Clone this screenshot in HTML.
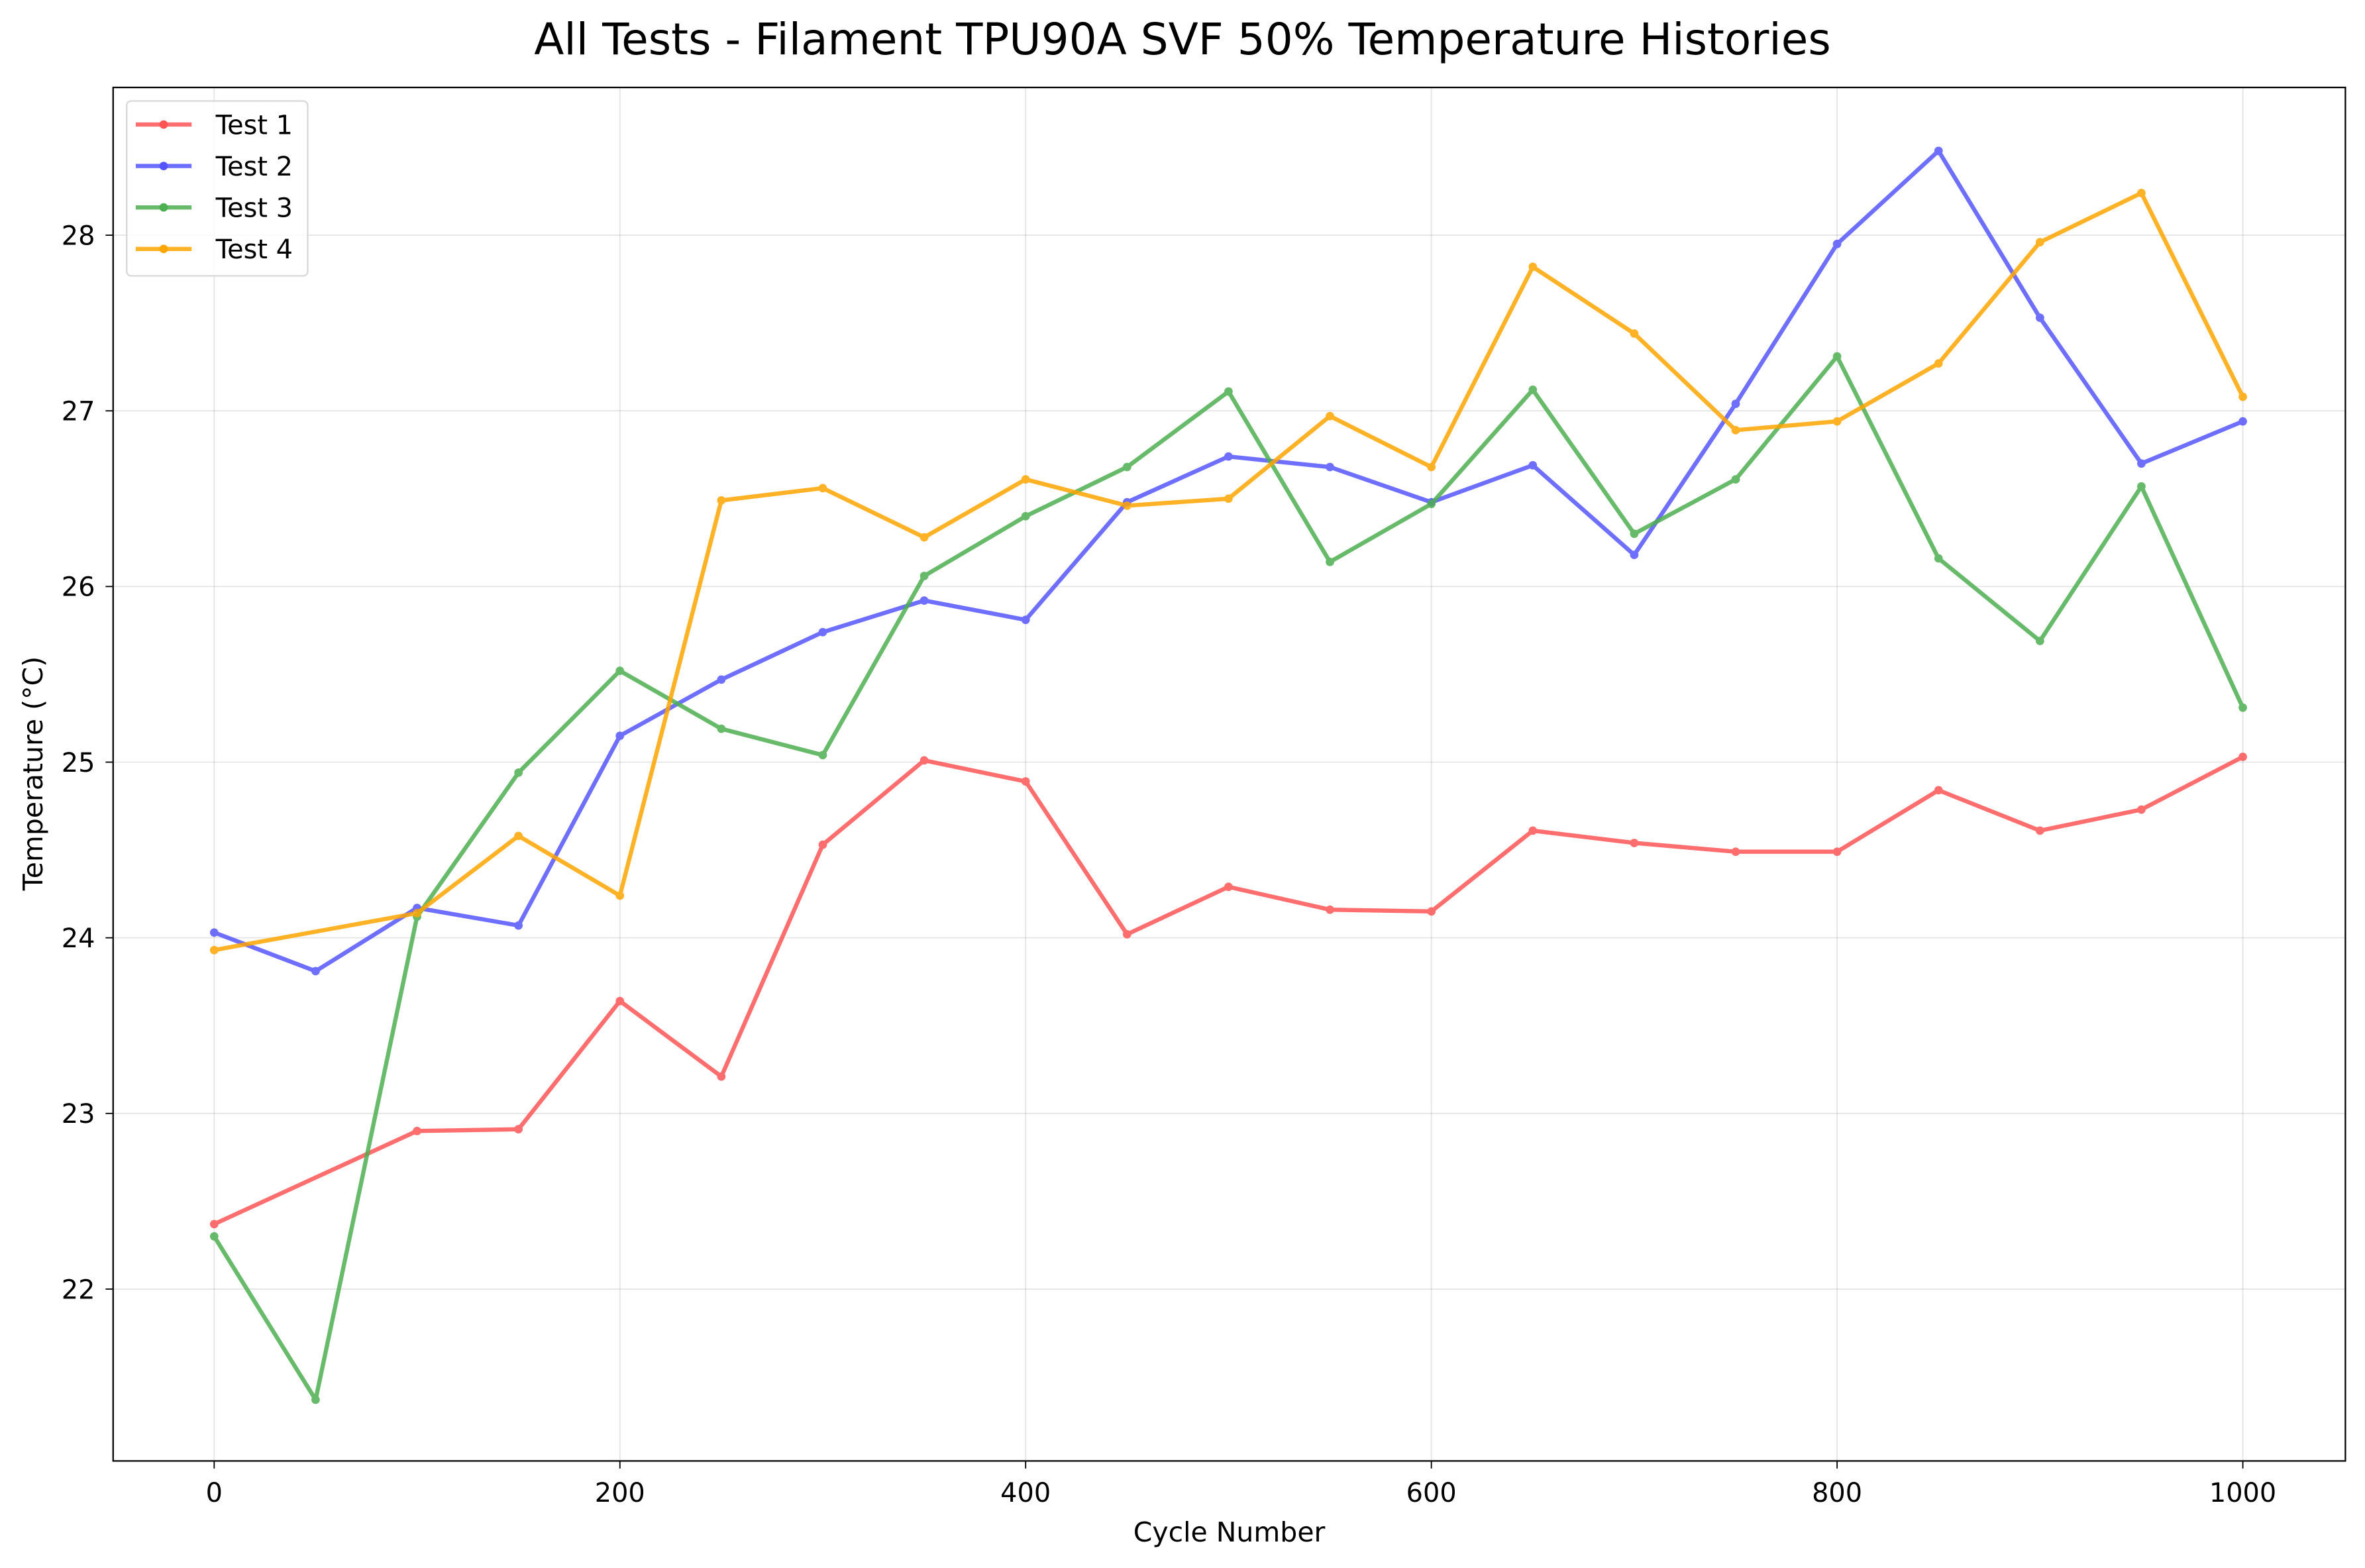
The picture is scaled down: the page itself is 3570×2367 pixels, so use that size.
<!DOCTYPE html>
<html><head><meta charset="utf-8"><style>
html,body{margin:0;padding:0;background:#fff;}
svg{display:block;font-family:"DejaVu Sans","Liberation Sans",sans-serif;}
</style></head><body>
<svg id="chart" width="3570" height="2367" viewBox="0 0 1568 1040" preserveAspectRatio="none" xmlns="http://www.w3.org/2000/svg">
<rect width="1568" height="1040" fill="#fff"/>
<text x="784" y="36" font-size="29" text-anchor="middle">All Tests - Filament TPU90A SVF 50% Temperature Histories</text>
<g id="grid"></g>
<g id="series"></g>
<rect x="75" y="58" width="1480" height="911" fill="none" stroke="#000" stroke-width="1"/>
<g id="ticks"></g>
<text x="815" y="1022.5" font-size="18" text-anchor="middle">Cycle Number</text>
<text transform="translate(28,513) rotate(-90)" font-size="18" text-anchor="middle">Temperature (°C)</text>
<g id="legend"></g>
</svg>
<script>
const xTicks = [0,200,400,600,800,1000];
const yTicks = [22,23,24,25,26,27,28];
const seriesNames = ["Test 1","Test 2","Test 3","Test 4"];
const seriesColors = ["#ff5555","#5555ff","#4caf50","#ffa500"];
const cycles1 = [0,100,150,200,250,300,350,400,450,500,550,600,650,700,750,800,850,900,950,1000];
const temps1 = [22.37,22.9,22.91,23.64,23.21,24.53,25.01,24.89,24.02,24.29,24.16,24.15,24.61,24.54,24.49,24.49,24.84,24.61,24.73,25.03];
const cycles2 = [0,50,100,150,200,250,300,350,400,450,500,550,600,650,700,750,800,850,900,950,1000];
const temps2 = [24.03,23.81,24.17,24.07,25.15,25.47,25.74,25.92,25.81,26.48,26.74,26.68,26.48,26.69,26.18,27.04,27.95,28.48,27.53,26.70,26.94];
const cycles3 = [0,50,100,150,200,250,300,350,400,450,500,550,600,650,700,750,800,850,900,950,1000];
const temps3 = [22.30,21.37,24.12,24.94,25.52,25.19,25.04,26.06,26.40,26.68,27.11,26.14,26.47,27.12,26.30,26.61,27.31,26.16,25.69,26.57,25.31];
const cycles4 = [0,100,150,200,250,300,350,400,450,500,550,600,650,700,750,800,850,900,950,1000];
const temps4 = [23.93,24.14,24.58,24.24,26.49,26.56,26.28,26.61,26.46,26.50,26.97,26.68,27.82,27.44,26.89,26.94,27.27,27.96,28.24,27.08];

const NS = "http://www.w3.org/2000/svg";
function xs(v){ return 142 + v*(1487-142)/1000; }
function ys(v){ return 855 - (v-22)*(855-156)/6; }
function mk(tag, attrs, parent){ const e=document.createElementNS(NS,tag); for(const k in attrs) e.setAttribute(k,attrs[k]); parent.appendChild(e); return e; }

const grid=document.getElementById('grid'), ticks=document.getElementById('ticks');
xTicks.forEach(t=>{
  const g=mk('line',{x1:xs(t),x2:xs(t),y1:58,y2:969,stroke:'#000','stroke-opacity':0.1,'stroke-width':0.8},grid);
  
  
  mk('line',{x1:xs(t),x2:xs(t),y1:969,y2:974,stroke:'#000','stroke-width':0.8},ticks);
  const l=mk('text',{x:xs(t),y:996,'font-size':17.5,'text-anchor':'middle'},ticks);
  l.textContent=t;
  
  
});
yTicks.forEach(t=>{
  const g=mk('line',{x1:75,x2:1555,y1:ys(t),y2:ys(t),stroke:'#000','stroke-opacity':0.1,'stroke-width':0.8},grid);
  
  
  mk('line',{x1:70,x2:75,y1:ys(t),y2:ys(t),stroke:'#000','stroke-width':0.8},ticks);
  const l=mk('text',{x:63,y:ys(t)+6.3,'font-size':17.5,'text-anchor':'end'},ticks);
  l.textContent=t;
  
  
});

const allX=[cycles1,cycles2,cycles3,cycles4], allY=[temps1,temps2,temps3,temps4];
const sg=document.getElementById('series');
allX.forEach((cx,i)=>{
  const g=mk('g',{opacity:0.85},sg);
  
  
  const pts=cx.map((c,j)=>xs(c)+','+ys(allY[i][j])).join(' ');
  const pl=mk('polyline',{points:pts,fill:'none',stroke:seriesColors[i],'stroke-width':2.8,'stroke-linejoin':'round'},g);
  
  
  cx.forEach((c,j)=>{
    const p=mk('circle',{cx:xs(c),cy:ys(allY[i][j]),r:2.8,fill:seriesColors[i]},g);
    
    
  });
});

const lg=document.getElementById('legend');
mk('rect',{x:84,y:67,width:120,height:116,rx:3,fill:'#fff','fill-opacity':0.8,stroke:'#d6d6d6','stroke-width':1},lg);
seriesNames.forEach((n,i)=>{
  const y=82.6+i*27.5;
  const e=mk('g',{},lg);
  
  
  mk('line',{x1:90,x2:127,y1:y,y2:y,stroke:seriesColors[i],'stroke-width':2.8,opacity:0.85},e);
  mk('circle',{cx:108.5,cy:y,r:2.8,fill:seriesColors[i]},e);
  const t=mk('text',{x:143,y:y+6.3,'font-size':17.5},e);
  t.textContent=n;
});
</script>
</body></html>
